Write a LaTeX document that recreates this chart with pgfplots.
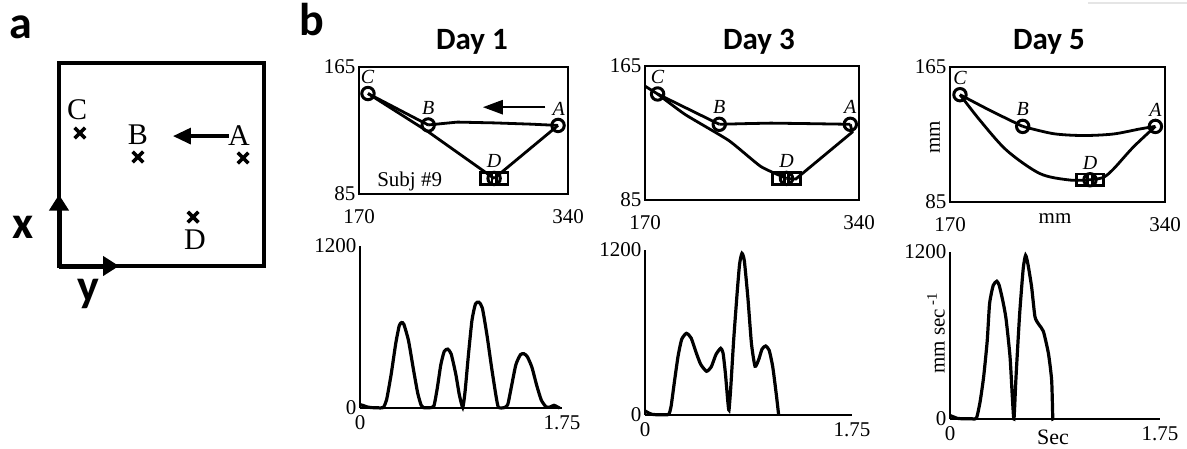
\documentclass[border=0pt]{standalone}
\usepackage{fontspec}
\setmainfont{Liberation Serif}
\newfontfamily\carlito{Carlito}
\usepackage{pgfplots}
\pgfplotsset{compat=1.18}
\usetikzlibrary{arrows.meta}

\newcommand{\fs}[1]{\fontsize{#1}{#1}\selectfont}

\tikzset{ptlab/.style={font=\fs{20}\itshape, anchor=center, yshift=17pt}}

\pgfplotsset{
  common/.style={
    scale only axis, clip=false, anchor=south west,
    major tick length=0pt,
    tick label style={font=\fs{21}},
  },
  traj/.style={
    common,
    xmin=170, xmax=340, ymin=85, ymax=165,
    xtick={170,340}, ytick={85,165},
    xticklabels={170,340}, yticklabels={85,165},
    axis line style={line width=2.6pt},
    xticklabel style={yshift=-12pt},
  },
  vel/.style={
    common,
    axis lines=left, axis line style={line width=2.6pt, -},
    xmin=0, xmax=1.75, ymin=0, ymax=1200,
    xtick={0,1.75}, ytick={0,1200},
    xticklabels={0,1.75}, yticklabels={0,1200},
    xticklabel style={yshift=-4pt},
  },
  trace/.style={black, line width=2.8pt, no markers},
  curve/.style={black, line width=3.2pt, no markers, smooth, tension=0.35},
  target/.style={only marks, mark=o, mark size=6.2pt, line width=3pt, black},
  box/.style={only marks, mark=square, mark size=5.8pt, line width=2.8pt, black},
}

\begin{document}
\begin{tikzpicture}
\useasboundingbox (0pt,0pt) rectangle (1187pt,-448pt);

% panel labels and titles
\node[font=\carlito\bfseries\fs{46}] at (21pt,-27pt) {a};
\node[font=\carlito\bfseries\fs{46}] at (312pt,-20pt) {b};
\node[font=\carlito\bfseries\fs{31}] at (472pt,-42pt) {Day 1};
\node[font=\carlito\bfseries\fs{31}] at (759pt,-42pt) {Day 3};
\node[font=\carlito\bfseries\fs{31}] at (1049pt,-42pt) {Day 5};
\draw[gray!20, line width=1.5pt] (1088pt,-3pt) -- (1187pt,-3pt);

% ---- (a) workspace with the four targets
\begin{axis}[common, at={(59pt,-266pt)}, width=205pt, height=203pt,
  xmin=0, xmax=1, ymin=0, ymax=1, ticks=none,
  axis line style={line width=3.4pt}]
\addplot[only marks, mark=x, mark size=7.5pt, line width=3.6pt, black]
  coordinates {(0.102,0.655) (0.385,0.537) (0.898,0.532) (0.654,0.241)};
\node[font=\fs{30}] at (axis cs:0.088,0.768) {C};
\node[font=\fs{30}] at (axis cs:0.385,0.645) {B};
\node[font=\fs{30}] at (axis cs:0.878,0.640) {A};
\node[font=\fs{30}] at (axis cs:0.663,0.128) {D};
\draw[-{Triangle[length=18pt,width=16pt]}, line width=3.4pt]
  (axis cs:0.829,0.640) -- (axis cs:0.556,0.640);
\draw[-{Triangle[length=16pt,width=19pt]}, line width=5pt]
  (axis cs:0,0) -- (axis cs:0,0.352);
\draw[-{Triangle[length=16pt,width=19pt]}, line width=5pt]
  (axis cs:0,0) -- (axis cs:0.293,0);
\end{axis}
\node[font=\carlito\bfseries\fs{46}] at (23pt,-227pt) {x};
\node[font=\carlito\bfseries\fs{46}] at (88pt,-294pt) {y};

% ---- (b) Day 1 path
\begin{axis}[traj, at={(359pt,-194pt)}, width=209pt, height=127pt]
\addplot[trace] coordinates {(331.9,128.2) (310,129) (280,129.8) (250,130.3) (226.3,128.5)};
\addplot[trace] coordinates {(226.3,128.5) (177.3,148.3)};
\addplot[trace] coordinates {(177.3,148.3) (226.3,124.2) (279.9,94.8)};
\addplot[trace] coordinates {(279.9,94.8) (331.9,128.2)};
\addplot[box] coordinates {(273.4,94.8) (286.4,94.8)};
\addplot[target] coordinates {(177.3,148.3) (226.3,128.5) (331.9,128.2) (279.9,94.8)};
\node[ptlab] at (axis cs:177,148.3) {C};
\node[ptlab] at (axis cs:226.3,128.5) {B};
\node[ptlab] at (axis cs:332.5,128.2) {A};
\node[ptlab] at (axis cs:279.9,94.8) {D};
\draw[-{Triangle[length=20pt,width=14pt]}, line width=2.6pt]
  (axis cs:321.5,139.7) -- (axis cs:270.7,139.7);
\node[anchor=base west, font=\fs{21}] at (axis cs:182,89.5) {Subj \#9};
\end{axis}

% ---- (b) Day 3 path
\begin{axis}[traj, at={(645pt,-200pt)}, width=214pt, height=134pt]
\addplot[trace] coordinates {(333.1,130.2) (300,130.6) (270,130.9) (250,130.6) (229,130.2)};
\addplot[trace] coordinates {(229,130.2) (180,148.3) (170,153)};
\addplot[trace, smooth, tension=0.3] coordinates {(180,148.3) (202,136) (236.6,120.5) (262,105) (282.4,97.9)};
\addplot[trace] coordinates {(282.4,97.9) (289.7,97.5) (334.6,125.5) (333.1,130.2)};
\addplot[box] coordinates {(276,97.9) (288.8,97.9)};
\addplot[target] coordinates {(180,148.3) (229,130.2) (333.1,130.2) (282.4,97.9)};
\node[ptlab] at (axis cs:180,148.3) {C};
\node[ptlab] at (axis cs:229,130.2) {B};
\node[ptlab] at (axis cs:333.1,130.2) {A};
\node[ptlab] at (axis cs:282.4,97.9) {D};
\end{axis}

% ---- (b) Day 5 path
\begin{axis}[traj, at={(950pt,-202pt)}, width=215pt, height=135pt]
\addplot[trace, smooth] coordinates {(332.4,129.8) (320.2,128.3) (299.2,125.3) (275.4,124.4) (251.7,125.5) (227.5,129.8)};
\addplot[trace, smooth] coordinates {(227.5,129.8) (201.6,139.3) (177.9,148.6)};
\addplot[trace, smooth] coordinates {(177.9,148.6) (193.7,133.4) (214.8,115.6) (241.2,101.8) (265,98) (280.7,98.2)};
\addplot[trace, smooth] coordinates {(280.7,98.2) (291,99.5) (299.2,104.5) (315,117.6) (332.4,129.8)};
\addplot[box] coordinates {(274.4,98.2) (287,98.2)};
\addplot[target] coordinates {(177.9,148.6) (227.5,129.8) (332.4,129.8) (280.7,98.2)};
\node[ptlab] at (axis cs:177.9,148.6) {C};
\node[ptlab] at (axis cs:227.5,129.8) {B};
\node[ptlab] at (axis cs:332.4,129.8) {A};
\node[ptlab] at (axis cs:280.7,98.2) {D};
\end{axis}
\node[font=\fs{21}, rotate=90] at (935pt,-137pt) {mm};
\node[font=\fs{21}] at (1055pt,-219pt) {mm};

% ---- (b) tangential velocity, Day 1
\begin{axis}[vel, at={(360pt,-408pt)}, width=202pt, height=162pt]
\addplot[curve] coordinates {
 (0,25) (0.03,18) (0.06,8) (0.10,3) (0.15,2) (0.20,3) (0.23,60) (0.27,250)
 (0.31,480) (0.34,610) (0.36,633) (0.38,620) (0.42,500) (0.46,300) (0.50,110)
 (0.53,20) (0.55,3) (0.60,2) (0.64,15) (0.67,150) (0.70,320) (0.73,420)
 (0.76,436) (0.79,400) (0.83,250) (0.86,100) (0.89,5) (0.91,120) (0.94,400)
 (0.97,650) (1.00,770) (1.03,784) (1.06,740) (1.10,540) (1.14,300) (1.18,80)
 (1.20,5) (1.25,3) (1.28,25) (1.31,150) (1.35,320) (1.39,395) (1.42,402)
 (1.45,380) (1.49,300) (1.53,170) (1.57,60) (1.61,10) (1.64,5) (1.68,20)
 (1.71,8) (1.73,0)};
\end{axis}

% ---- (b) tangential velocity, Day 3
\begin{axis}[vel, at={(645pt,-415pt)}, width=207pt, height=165pt]
\addplot[curve] coordinates {
 (0,30) (0.03,15) (0.06,5) (0.10,2) (0.15,2) (0.20,5) (0.22,60) (0.25,250)
 (0.28,430) (0.31,550) (0.35,594) (0.39,560) (0.43,460) (0.47,370) (0.52,318)
 (0.56,350) (0.60,440) (0.64,485) (0.66,450) (0.68,300) (0.70,100) (0.71,36)
 (0.725,200) (0.75,550) (0.78,900) (0.80,1100) (0.82,1176) (0.84,1120)
 (0.87,850) (0.90,520) (0.93,355) (0.96,400) (0.99,480) (1.02,502) (1.05,470)
 (1.08,350) (1.11,150) (1.13,0)};
\end{axis}

% ---- (b) tangential velocity, Day 5
\begin{axis}[vel, at={(950pt,-419pt)}, width=210pt, height=167pt]
\addplot[curve] coordinates {
 (0,25) (0.03,15) (0.06,5) (0.10,2) (0.18,2) (0.22,5) (0.25,120) (0.28,300)
 (0.31,560) (0.33,830) (0.36,960) (0.39,990) (0.41,960) (0.44,850)
 (0.467,720) (0.50,450) (0.52,150) (0.533,0) (0.55,300) (0.58,750)
 (0.61,1080) (0.63,1176) (0.65,1110) (0.68,950) (0.708,735) (0.74,680)
 (0.778,630) (0.82,472) (0.847,280) (0.856,20) (0.858,0)};
\end{axis}
\node[font=\fs{21}, rotate=90] at (936pt,-333pt) {mm sec\textsuperscript{ -1}};
\node[font=\fs{22}] at (1053pt,-437pt) {Sec};

\end{tikzpicture}
\end{document}
